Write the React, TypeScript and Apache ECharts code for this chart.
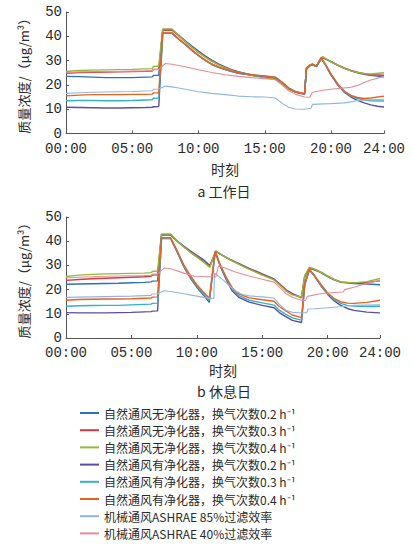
import React, { useEffect, useRef } from "react";
import * as echarts from "echarts";

type P = [number, number];

const SERIES_NAMES = [
  "自然通风无净化器，换气次数0.2 h⁻¹",
  "自然通风无净化器，换气次数0.3 h⁻¹",
  "自然通风无净化器，换气次数0.4 h⁻¹",
  "自然通风有净化器，换气次数0.2 h⁻¹",
  "自然通风有净化器，换气次数0.3 h⁻¹",
  "自然通风有净化器，换气次数0.4 h⁻¹",
  "机械通风ASHRAE 85%过滤效率",
  "机械通风ASHRAE 40%过滤效率",
];
const COLORS = ["#2f6fb8", "#d23a44", "#94b83e", "#5a4ea4", "#33b2c4", "#e8621e", "#8fb6e2", "#ea8a92"];
const X_TICKS = [0, 5, 10, 15, 20, 24];

// ---- a 工作日 ----
const A_BLUE: P[] = [[0,23.5],[1,23.4],[2,23.2],[3,23.0],[4,23.0],[5,23.0],[6,23.2],[6.5,23.3],[6.6,23.9],[7.0,24.0],[7.3,42.8],[8.0,42.8],[8.5,40.5],[9,38.2],[9.5,36],[10,33.9],[10.5,32],[11,30.2],[11.5,28.7],[12,27.4],[12.5,26.3],[13,25.4],[14,24.1],[15,23.2],[15.8,22.5],[16.3,20.8],[16.8,18.5],[17.3,17.2],[18.0,16.3],[18.15,26.8],[18.4,28.0],[18.6,28.4],[18.9,27.6],[19.35,31.3],[20,29.5],[20.5,28],[21,26.8],[21.5,25.8],[22,25],[22.5,24.4],[23,23.9],[24,23.3]];
const A_RED: P[] = [[0,24.8],[1,25.1],[2,25.2],[3,25.3],[4,25.4],[5,25.5],[6,25.6],[6.5,25.7],[6.6,26.4],[7.0,26.5],[7.3,42.5],[8.0,42.5],[8.5,40.2],[9,37.8],[9.5,35.6],[10,33.5],[10.5,31.6],[11,29.9],[11.5,28.4],[12,27.2],[12.5,26.1],[13,25.2],[14,24],[15,23.1],[15.8,22.4],[16.3,20.7],[16.8,18.4],[17.3,17.1],[18,16.2],[18.15,26.9],[18.4,28.1],[18.6,28.5],[18.9,27.7],[19.35,31.4],[20,29.6],[20.5,28.2],[21,27],[21.5,26],[22,25.2],[22.5,24.6],[23,24.2],[24,24.0]];
const A_GREEN: P[] = [[0,25.5],[1,25.9],[2,26.1],[3,26.2],[4,26.3],[5,26.4],[6,26.6],[6.5,26.7],[6.6,27.6],[7.0,27.8],[7.3,43.0],[8,43.0],[8.5,40.3],[9,37.8],[9.5,35.5],[10,33.3],[10.5,31.4],[11,29.7],[11.5,28.2],[12,27],[12.5,26],[13,25.1],[14,23.9],[15,23],[15.8,22.3],[16.3,20.6],[16.8,18.3],[17.3,17],[18,16.1],[18.15,27],[18.4,28.2],[18.6,28.6],[18.9,27.8],[19.35,31.6],[20,29.6],[20.5,28.1],[21,26.8],[21.5,25.8],[22,25.1],[22.5,24.7],[23,24.5],[24,25.0]];
const A_PURPLE: P[] = [[0,10.8],[1,10.7],[2,10.6],[3,10.5],[4,10.5],[5,10.6],[6,10.7],[6.5,10.8],[6.6,11.0],[7.0,11.1],[7.3,41.2],[8,41.2],[8.5,38.8],[9,36.6],[9.5,34.2],[10,32],[10.5,30.1],[11,28.4],[11.5,27.2],[12,26.3],[12.5,25.5],[13,24.8],[14,24.0],[15,23.5],[15.8,23.0],[16.3,21],[16.8,18.6],[17.3,17.1],[18,16.2],[18.15,26.6],[18.4,27.8],[18.6,28.2],[18.9,27.5],[19.25,31.0],[19.6,28],[20,24],[20.5,20],[21,17],[21.5,15],[22,13.6],[22.5,12.6],[23,11.8],[23.5,11.2],[24,10.9]];
const A_CYAN: P[] = [[0,13.5],[1,13.6],[2,13.6],[3,13.5],[4,13.5],[5,13.6],[6,13.8],[6.5,13.9],[6.6,14.5],[7.0,14.6],[7.3,41.3],[8,41.3],[8.5,38.9],[9,36.6],[9.5,34.3],[10,32.1],[10.5,30.2],[11,28.5],[11.5,27.3],[12,26.4],[12.5,25.6],[13,24.9],[14,24.1],[15,23.6],[15.8,23.1],[16.3,21.1],[16.8,18.7],[17.3,17.2],[18,16.3],[18.15,26.7],[18.4,27.9],[18.6,28.3],[18.9,27.6],[19.25,31.1],[19.6,28.2],[20,24.3],[20.5,20.3],[21,17.3],[21.5,15.5],[22,14.4],[22.5,13.9],[23,13.5],[24,13.4]];
const A_ORANGE: P[] = [[0,15.5],[1,15.8],[2,16],[3,16],[4,16],[5,16.1],[6,16.1],[6.5,16.2],[6.6,16.7],[7.0,16.8],[7.3,41.4],[8,41.4],[8.5,39],[9,36.7],[9.5,34.4],[10,32.2],[10.5,30.3],[11,28.6],[11.5,27.4],[12,26.5],[12.5,25.7],[13,25],[14,24.2],[15,23.7],[15.8,23.2],[16.3,21.2],[16.8,18.8],[17.3,17.3],[18,16.4],[18.15,26.8],[18.4,28],[18.6,28.4],[18.9,27.7],[19.25,31.2],[19.6,28.3],[20,24.5],[20.5,20.5],[21,17.5],[21.5,15.7],[22,14.8],[22.5,14.4],[23,14.6],[24,15.4]];
const A_LIGHTBLUE: P[] = [[0,16.5],[1,16.8],[2,17],[3,17.1],[4,17.2],[5,17.3],[6,17.5],[6.5,17.6],[6.6,18.2],[7.0,18.3],[7.5,19.5],[8,19.2],[8.5,18.7],[9,18.2],[10,17.2],[11,16.5],[12,16],[13,15.4],[14,15.1],[15,15],[15.8,14.6],[16.3,12.5],[16.8,10.8],[17.3,10.1],[18,10],[18.5,10.4],[18.6,12],[19,12.1],[20,12.3],[21,12.6],[21.5,13],[22,13.6],[23,13.9],[24,14.1]];
const A_PINK: P[] = [[0,25],[1,25.3],[2,25.4],[3,25.5],[4,25.5],[5,25.6],[6,25.7],[6.5,25.8],[6.6,26.3],[7.0,26.4],[7.5,28.8],[8,28.5],[9,27.5],[10,26.2],[11,25.1],[12,24.2],[13,23.5],[14,23],[15,22.6],[15.8,22.1],[16.3,20],[16.8,17.6],[17.3,16.2],[18,15],[18.4,14.9],[18.6,17],[19.5,17.9],[20.5,18.5],[21.5,19],[22,19.8],[22.5,21],[23,22],[24,23.5]];

// ---- b 休息日 ----
const B_BLUE: P[] = [[0,22.2],[1,22.3],[2,22.4],[3,22.5],[4,22.6],[5,22.8],[6,23],[6.5,23.2],[6.6,23.5],[7,23.6],[7.3,42.7],[8,42.7],[8.5,40.2],[9,38.0],[9.5,36],[10,34.2],[10.5,32.4],[11,30.0],[11.45,35.8],[12,34.0],[12.5,32.6],[13,31.3],[14,28.8],[15,26.5],[15.9,24.4],[16.3,22.5],[16.8,20],[17.3,18.3],[18,16.8],[18.25,25.5],[18.6,28.8],[19,28.2],[19.5,27],[20,25.4],[20.5,24],[21,23],[22,22.5],[23,22.3],[24,22.0]];
const B_RED: P[] = [[0,23.8],[1,24.2],[2,24.5],[3,24.7],[4,24.9],[5,25.1],[6,25.3],[6.5,25.5],[6.6,26],[7,26.1],[7.3,42.5],[8,42.5],[8.5,40],[9,37.7],[9.5,35.6],[10,33.7],[10.5,31.8],[11,29.6],[11.45,35.9],[12,34],[12.5,32.5],[13,31.1],[14,28.6],[15,26.3],[15.9,24.2],[16.3,22.3],[16.8,19.8],[17.3,18.1],[18,16.6],[18.25,25.6],[18.6,28.9],[19,28.3],[19.5,27.1],[20,25.6],[20.5,24.2],[21,23.2],[22,22.8],[23,23],[24,23.6]];
const B_GREEN: P[] = [[0,25.4],[1,26],[2,26.3],[3,26.5],[4,26.6],[5,26.7],[6,26.8],[6.5,27],[6.6,27.5],[7,27.7],[7.3,43],[8,43],[8.5,40.1],[9,37.6],[9.5,35.4],[10,33.4],[10.5,31.4],[11,29.2],[11.45,36],[12,34],[12.5,32.4],[13,31],[14,28.4],[15,26],[15.9,24],[16.3,22],[16.8,19.5],[17.3,17.8],[18,16.9],[18.25,25.8],[18.6,29.2],[19,28.5],[19.5,27.2],[20,25.6],[20.5,24.2],[21,23.1],[22,22.8],[23,23.3],[24,24.6]];
const B_PURPLE: P[] = [[0,10.5],[1,10.4],[2,10.4],[3,10.4],[4,10.5],[5,10.6],[6,10.8],[6.5,10.9],[6.6,11.1],[7,11.2],[7.3,41.1],[8,41.1],[8.5,35.5],[9,29.5],[9.5,24.8],[10,21],[10.5,17.8],[10.95,14.7],[11.4,35.5],[11.8,29.5],[12.3,23.5],[12.7,19.5],[13.2,16.8],[14,14.8],[15,13.5],[15.9,12.5],[16.3,10.5],[16.8,8.8],[17.3,7.3],[18,6.4],[18.25,22],[18.6,28.2],[19,25.5],[19.5,21.5],[20,18],[20.5,15.3],[21,13.5],[21.5,12.2],[22,11.4],[23,10.7],[24,10.4]];
const B_CYAN: P[] = [[0,13.1],[1,13.3],[2,13.4],[3,13.5],[4,13.5],[5,13.7],[6,13.9],[6.5,14],[6.6,14.3],[7,14.4],[7.3,41.2],[8,41.2],[8.5,35.7],[9,29.8],[9.5,25.2],[10,21.4],[10.5,18.3],[10.95,15.4],[11.4,35.6],[11.8,29.8],[12.3,24],[12.7,20.2],[13.2,17.5],[14,15.6],[15,14.5],[15.9,13.6],[16.3,11.5],[16.8,9.8],[17.3,8.3],[18,7.4],[18.25,22.2],[18.6,28.3],[19,25.6],[19.5,21.7],[20,18.3],[20.5,15.8],[21,14.3],[21.5,13.5],[22,13.2],[23,13],[24,13.1]];
const B_ORANGE: P[] = [[0,15.6],[1,15.9],[2,16],[3,16.1],[4,16.1],[5,16.2],[6,16.4],[6.5,16.5],[6.6,16.9],[7,17],[7.3,41.4],[8,41.4],[8.5,36],[9,30.2],[9.5,25.8],[10,22],[10.5,19],[10.95,16.4],[11.4,35.8],[11.8,30.2],[12.3,24.5],[12.7,20.8],[13.2,18.2],[14,16.6],[15,15.8],[15.9,15.2],[16.3,13],[16.8,11.2],[17.3,9.5],[18,8.4],[18.25,22.4],[18.6,28.4],[19,25.8],[19.5,22],[20,18.6],[20.5,16.3],[21,15],[21.5,14.4],[22,14.3],[23,14.7],[24,15.6]];
const B_LIGHTBLUE: P[] = [[0,16.8],[1,16.9],[2,17],[3,17.1],[4,17.2],[5,17.3],[6,17.5],[6.5,17.6],[6.6,18.2],[7,18.3],[7.5,19.5],[8,19.2],[9,18.3],[10,17.3],[10.5,16.8],[11.3,16.3],[11.35,26.8],[11.6,25.8],[12,24],[12.5,21.5],[13,19.3],[13.5,18],[14,17.4],[15,17],[15.9,16.5],[16.3,14],[16.8,11.5],[17.3,10.6],[18,10.3],[18.4,10.5],[18.5,12],[19,12.1],[20,12.5],[21,12.9],[21.5,13.2],[22,13.5],[23,13.6],[24,13.7]];
const B_PINK: P[] = [[0,24.8],[1,25.1],[2,25.3],[3,25.5],[4,25.6],[5,25.7],[6,25.8],[6.5,25.9],[6.6,26.4],[7,26.5],[7.5,28.9],[8,28.6],[9,26.8],[9.8,25.5],[11.45,25.2],[11.65,29.8],[12,29.2],[12.5,28.2],[13,27.2],[14,25.6],[15,24.3],[15.9,23.1],[16.3,21],[16.8,18.4],[17.3,16.8],[18,15.6],[18.3,15.5],[18.45,17.2],[19.5,18.4],[20.5,18.8],[21.2,19],[21.3,20],[22,21],[22.5,21.8],[23,22.6],[24,23.8]];

const WORK = [A_BLUE, A_RED, A_GREEN, A_PURPLE, A_CYAN, A_ORANGE, A_LIGHTBLUE, A_PINK];
const REST = [B_BLUE, B_RED, B_GREEN, B_PURPLE, B_CYAN, B_ORANGE, B_LIGHTBLUE, B_PINK];

const MONO = "'Liberation Mono', 'DejaVu Sans Mono', monospace";
const CJK = "'Noto Sans CJK SC', sans-serif";
const TXT = "#2a2a2a";

function xAxis(gridIndex: number, nameGap: number, margin: number) {
  return {
    type: "value" as const,
    gridIndex,
    min: 0,
    max: 24,
    name: "时刻",
    nameLocation: "middle" as const,
    nameGap,
    nameTextStyle: { fontFamily: CJK, fontSize: 14, color: TXT },
    axisLine: { show: true, lineStyle: { color: "#555", width: 1 } },
    axisTick: { show: true, inside: true, length: 3, customValues: X_TICKS, lineStyle: { color: "#555" } },
    axisLabel: {
      customValues: X_TICKS,
      margin,
      fontFamily: MONO,
      fontSize: 14,
      color: TXT,
      formatter: (v: number) => String(v).padStart(2, "0") + ":00",
    },
    splitLine: { show: false },
  };
}

function yAxis(gridIndex: number) {
  return {
    type: "value" as const,
    gridIndex,
    min: 0,
    max: 50,
    interval: 10,
    name: "质量浓度/（μg/m³）",
    nameLocation: "middle" as const,
    nameGap: 36,
    nameTextStyle: { fontFamily: CJK, fontSize: 13, color: TXT },
    axisLine: { show: true, lineStyle: { color: "#555", width: 1 } },
    axisTick: { show: true, inside: true, length: 3, lineStyle: { color: "#555" } },
    axisLabel: { margin: 4, fontFamily: MONO, fontSize: 14, color: TXT },
    splitLine: { show: false },
  };
}

export default function App() {
  const ref = useRef<HTMLDivElement>(null);
  useEffect(() => {
    if (!ref.current) return;
    const chart = echarts.init(ref.current, undefined, { renderer: "svg" });
    const mk = (data: P[][], gi: number) =>
      data.map((d, i) => ({
        name: SERIES_NAMES[i],
        type: "line" as const,
        xAxisIndex: gi,
        yAxisIndex: gi,
        data: d,
        symbol: "none",
        showSymbol: false,
        lineStyle: { color: COLORS[i], width: i >= 6 ? 1.1 : 1.4 },
        itemStyle: { color: COLORS[i] },
        emphasis: { disabled: true },
        z: 2,
      }));
    chart.setOption({
      animation: false,
      grid: [
        { left: 66, top: 12, width: 318, height: 121.5 },
        { left: 66, top: 217, width: 314, height: 121 },
      ],
      xAxis: [xAxis(0, 28, 8), xAxis(1, 25, 8)],
      yAxis: [yAxis(0), yAxis(1)],
      legend: {
        orient: "vertical",
        left: 80,
        top: 406,
        padding: 0,
        icon: "rect",
        itemWidth: 19,
        itemHeight: 2,
        itemGap: 3.2,
        data: SERIES_NAMES,
        textStyle: { fontFamily: CJK, fontSize: 12, lineHeight: 14, color: TXT },
        selectedMode: false,
      },
      graphic: [
        {
          type: "text",
          x: 224,
          y: 191,
          style: {
            text: "a 工作日",
            textAlign: "center",
            textVerticalAlign: "middle",
            fontFamily: CJK,
            fontSize: 14,
            fill: TXT,
          },
        },
        {
          type: "text",
          x: 224,
          y: 391,
          style: {
            text: "b 休息日",
            textAlign: "center",
            textVerticalAlign: "middle",
            fontFamily: CJK,
            fontSize: 14,
            fill: TXT,
          },
        },
      ],
      series: [...mk(WORK, 0), ...mk(REST, 1)],
    });
    return () => chart.dispose();
  }, []);
  return <div ref={ref} style={{ width: 412, height: 546, position: "absolute", left: 0, top: 0, background: "#fff" }} />;
}
